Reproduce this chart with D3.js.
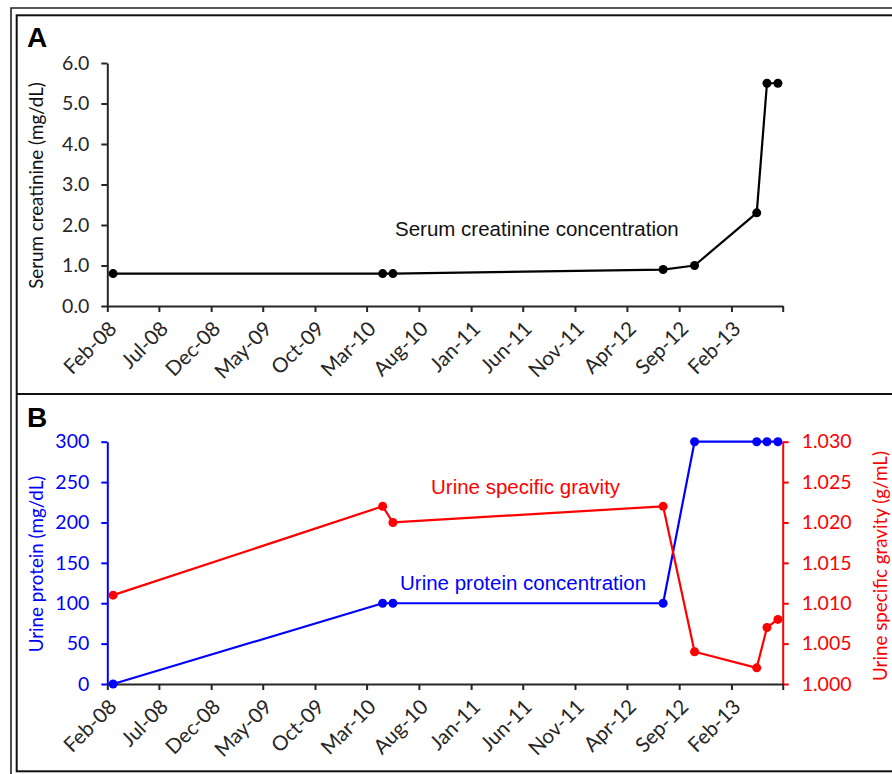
<!DOCTYPE html>
<html>
<head>
<meta charset="utf-8">
<script src="https://cdn.jsdelivr.net/npm/d3@7"></script>
<style>
  body { margin: 0; background: #fff; }
  svg { display: block; }
</style>
</head>
<body>
<div class="canvas"></div>
<script>
// data
const dates = ['2008-02-18', '2010-04-17', '2010-05-17', '2012-07-16',
  '2012-10-16', '2013-04-16', '2013-05-16', '2013-06-17'];
const creatinine = [0.8, 0.8, 0.8, 0.9, 1.0, 2.3, 5.5, 5.5];
const protein = [0, 100, 100, 100, 300, 300, 300, 300];
const gravity = [1.011, 1.022, 1.020, 1.022, 1.004, 1.002, 1.007, 1.008];

const xTicks = ['Feb-08', 'Jul-08', 'Dec-08', 'May-09', 'Oct-09', 'Mar-10', 'Aug-10',
  'Jan-11', 'Jun-11', 'Nov-11', 'Apr-12', 'Sep-12', 'Feb-13', 'Jul-13'];
const creatTicks = [0, 1, 2, 3, 4, 5, 6];
const proteinTicks = [0, 50, 100, 150, 200, 250, 300];
const gravityTicks = [1.000, 1.005, 1.010, 1.015, 1.020, 1.025, 1.030];

// setup
const W = 892, H = 774;
const tickFont = 'Lato';
const parseDay = d3.timeParse('%Y-%m-%d');
const parseTick = d3.timeParse('%b-%y');
const days = dates.map(parseDay);
const tickDates = xTicks.map(parseTick);

const svg = d3.select('.canvas').append('svg')
  .attr('width', W).attr('height', H);

// frames
svg.append('path')
  .attr('d', `M11,${H + 5} V8 H${W + 5}`)
  .attr('fill', 'none').attr('stroke', '#222').attr('stroke-width', 1.6);
svg.append('rect')
  .attr('x', 16.7).attr('y', 15.3).attr('width', W).attr('height', 771.3 - 15.3)
  .attr('fill', 'none').attr('stroke', '#111').attr('stroke-width', 2);
svg.append('line')
  .attr('x1', 16.7).attr('x2', W + 5).attr('y1', 394).attr('y2', 394)
  .attr('stroke', '#111').attr('stroke-width', 2);

const x = d3.scaleTime()
  .domain([tickDates[0], tickDates[tickDates.length - 1]])
  .range([107.3, 782.7]);

const yA = d3.scaleLinear().domain([0, 6]).range([306, 63]);
const yP = d3.scaleLinear().domain([0, 300]).range([684, 441.7]);
const yG = d3.scaleLinear().domain([1.0, 1.03]).range([684, 441.7]);

const styleAxis = (g, color, size) => {
  g.select('.domain').attr('stroke', color).attr('stroke-width', 2);
  g.selectAll('.tick line').attr('stroke', color).attr('stroke-width', 2);
  g.selectAll('.tick text')
    .attr('fill', color)
    .attr('font-family', tickFont)
    .attr('font-size', size || '19.5px');
};

const drawX = (yPos) => {
  const g = svg.append('g')
    .attr('transform', `translate(0,${yPos})`)
    .call(d3.axisBottom(x).tickValues(tickDates).tickSize(6).tickSizeOuter(0)
      .tickFormat((d, i) => (i < xTicks.length - 1 ? xTicks[i] : '')));
  styleAxis(g, '#262626', '20.5px');
  g.selectAll('.tick text')
    .attr('text-anchor', 'end')
    .attr('y', 0).attr('dy', 0)
    .attr('transform', 'translate(10,24) rotate(-45)');
  return g;
};

const drawSeries = (values, yScale, color) => {
  const pts = values.map((v, i) => [x(days[i]), yScale(v)]);
  svg.append('path')
    .attr('d', d3.line()(pts))
    .attr('fill', 'none').attr('stroke', color).attr('stroke-width', 2.2)
    .attr('stroke-linejoin', 'round');
  svg.append('g').selectAll('circle')
    .data(pts).join('circle')
    .attr('cx', (d) => d[0]).attr('cy', (d) => d[1])
    .attr('r', 4.5).attr('fill', color);
};

const yTitle = (text, xPos, yMid, color, rot) => {
  svg.append('text')
    .attr('transform', `translate(${xPos},${yMid}) rotate(${rot})`)
    .attr('text-anchor', 'middle')
    .attr('fill', color)
    .attr('font-family', tickFont)
    .attr('font-size', '18.8px')
    .text(text);
};

// ---------------------------------------------------------- panel A
svg.append('text')
  .attr('x', 27).attr('y', 46.5)
  .attr('font-family', 'Liberation Sans').attr('font-weight', 'bold')
  .attr('font-size', '28px').text('A');

const axA = svg.append('g')
  .attr('transform', 'translate(107.3,0)')
  .call(d3.axisLeft(yA).tickValues(creatTicks).tickSize(6).tickSizeOuter(0)
    .tickPadding(12).tickFormat(d3.format('.1f')));
styleAxis(axA, '#262626');
drawX(306);
yTitle('Serum creatinine (mg/dL)', 43, 185.5, '#111', -90);

drawSeries(creatinine, yA, '#000');

svg.append('text')
  .attr('x', 395).attr('y', 236)
  .attr('font-family', 'Liberation Sans').attr('font-size', '20.5px')
  .attr('fill', '#111')
  .text('Serum creatinine concentration');

// ---------------------------------------------------------- panel B
svg.append('text')
  .attr('x', 27).attr('y', 427)
  .attr('font-family', 'Liberation Sans').attr('font-weight', 'bold')
  .attr('font-size', '28px').text('B');

const axP = svg.append('g')
  .attr('transform', 'translate(107.3,0)')
  .call(d3.axisLeft(yP).tickValues(proteinTicks).tickSize(6).tickSizeOuter(0)
    .tickPadding(12));
styleAxis(axP, '#0000ff');

const axG = svg.append('g')
  .attr('transform', 'translate(782.7,0)')
  .call(d3.axisRight(yG).tickValues(gravityTicks).tickSize(6).tickSizeOuter(0)
    .tickPadding(13).tickFormat(d3.format('.3f')));
styleAxis(axG, '#ff0000');

drawX(684);
yTitle('Urine protein (mg/dL)', 43, 564, '#0000ff', -90);
yTitle('Urine specific gravity (g/mL)', 887, 566, '#ff0000', -90);

drawSeries(protein, yP, '#0000ff');
drawSeries(gravity, yG, '#ff0000');

svg.append('text')
  .attr('x', 431).attr('y', 494)
  .attr('font-family', 'Liberation Sans').attr('font-size', '20.5px')
  .attr('fill', '#ff0000')
  .text('Urine specific gravity');

svg.append('text')
  .attr('x', 400).attr('y', 590)
  .attr('font-family', 'Liberation Sans').attr('font-size', '20.5px')
  .attr('fill', '#0000ff')
  .text('Urine protein concentration');
</script>
</body>
</html>
